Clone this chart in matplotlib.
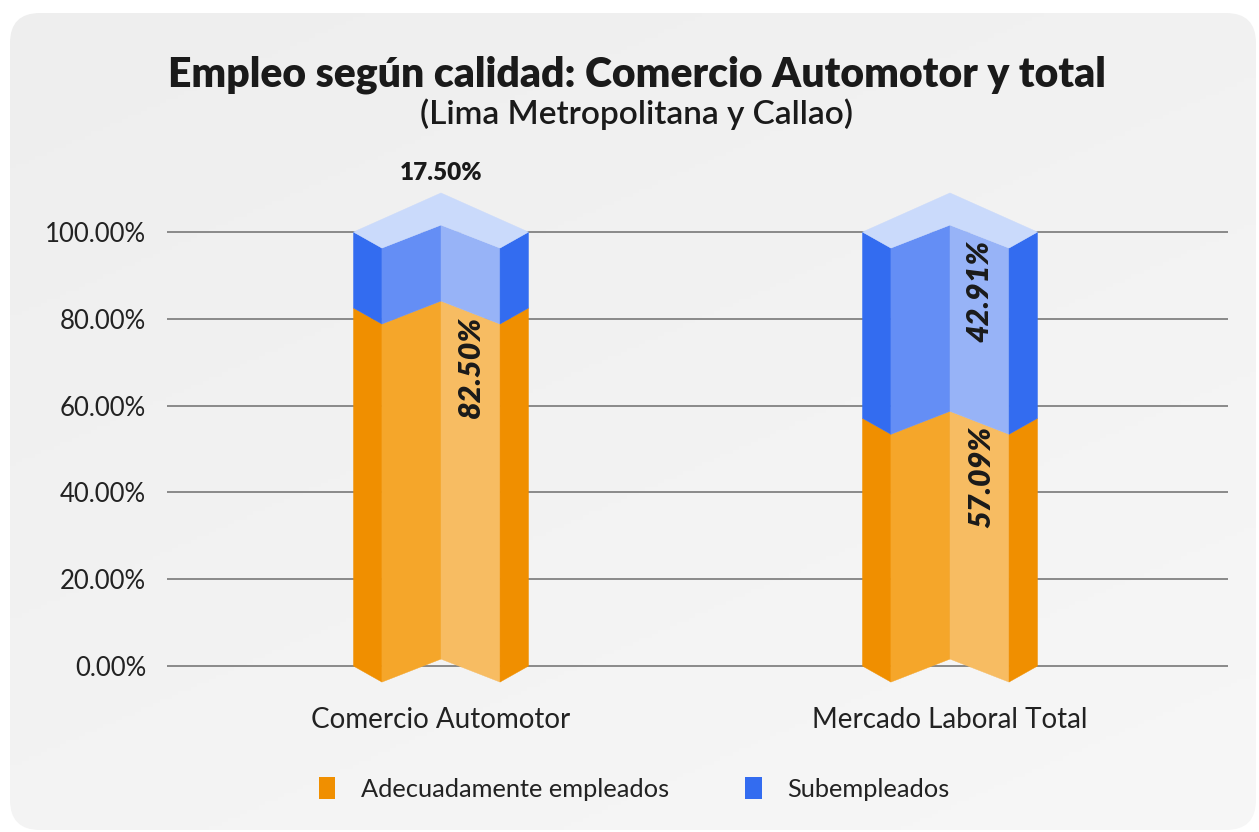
import matplotlib.pyplot as plt
import numpy as np
from matplotlib.patches import Polygon, FancyBboxPatch, Patch

plt.rcParams['font.family'] = ['Lato', 'DejaVu Sans']

# data
categories = ["Comercio Automotor", "Mercado Laboral Total"]
adecuados = [82.50, 57.09]
subempleados = [17.50, 42.91]
series_names = ["Adecuadamente empleados", "Subempleados"]
yticks = [0, 20, 40, 60, 80, 100]

# face colours: outer, left middle, right middle (light), cap
orange = ["#F08F00", "#F5A62A", "#F7BC62", "#F9D79F"]
blue = ["#336CF0", "#648EF5", "#97B3F7", "#CADAFB"]

W, w = 0.172, 0.116       # outer / inner half width (data units)
d_in, d_mid, d_cap = 3.7, 1.6, 9.0   # vertical offsets for pseudo 3D

fig = plt.figure(figsize=(12.59, 8.32), dpi=100)
fig.patch.set_facecolor("white")

# rounded background panel with a soft gradient
bg = fig.add_axes([0, 0, 1, 1], zorder=-10)
bg.set_xlim(0, 1259)
bg.set_ylim(832, 0)
bg.axis("off")
panel = FancyBboxPatch((10, 13), 1246, 817, boxstyle="round,pad=0,rounding_size=30",
                       transform=bg.transData, facecolor="none", edgecolor="none")
bg.add_patch(panel)
gx, gy = np.meshgrid(np.linspace(0, 1, 200), np.linspace(0, 1, 200))
grad = 0.4 * gx + 0.6 * gy
img = bg.imshow(grad, extent=(10, 1256, 830, 13), cmap=plt.matplotlib.colors.LinearSegmentedColormap.from_list(
    "g", ["#EEEEEE", "#F7F7F7"]), aspect="auto", origin="upper")
img.set_clip_path(panel)

ax = fig.add_axes([167 / 1259, 132 / 832, 1061 / 1259, 550 / 832])
ax.set_facecolor("none")
ax.set_xlim(-0.5383, 1.5462)
ax.set_ylim(-7.83, 118.9)
for s in ax.spines.values():
    s.set_visible(False)
ax.set_yticks(yticks)
ax.set_yticklabels([f"{t:.2f}%" for t in yticks], fontsize=18.5, color="#222222")
ax.yaxis.grid(True, color="#8A8A8A", linewidth=1.4, zorder=0)
ax.set_axisbelow(True)
ax.tick_params(axis="y", length=0, pad=15)
ax.set_xticks(range(len(categories)))
ax.set_xticklabels(categories, fontsize=20, color="#222222")
ax.tick_params(axis="x", length=0, pad=5)


def segment(x, lo, hi, cols, cap=False):
    faces = [
        ([(x - W, lo), (x - W, hi), (x - w, hi - d_in), (x - w, lo - d_in)], cols[0]),
        ([(x - w, lo - d_in), (x - w, hi - d_in), (x, hi + d_mid), (x, lo + d_mid)], cols[1]),
        ([(x, lo + d_mid), (x, hi + d_mid), (x + w, hi - d_in), (x + w, lo - d_in)], cols[2]),
        ([(x + w, lo - d_in), (x + w, hi - d_in), (x + W, hi), (x + W, lo)], cols[0]),
    ]
    if cap:
        faces.append(([(x - W, hi), (x, hi + d_cap), (x + W, hi), (x + w, hi - d_in),
                       (x, hi + d_mid), (x - w, hi - d_in)], cols[3]))
    for pts, c in faces:
        ax.add_patch(Polygon(pts, closed=True, facecolor=c, edgecolor=c, linewidth=0.3, zorder=3))


for i, (a, s) in enumerate(zip(adecuados, subempleados)):
    segment(i, 0, a, orange)
    segment(i, a, a + s, blue, cap=True)

# labels
lab_kw = dict(fontweight="heavy", color="#1A1A1A", zorder=5)
ax.text(0.058, adecuados[0] - 13.5, f"{adecuados[0]:.2f}%", rotation=90, ha="center",
        va="center", style="italic", fontsize=22, **lab_kw)
ax.text(0, adecuados[0] + subempleados[0] + d_cap + 2, f"{subempleados[0]:.2f}%",
        ha="center", va="bottom", fontsize=17.5, **lab_kw)
ax.text(1.062, adecuados[1] - 13.5, f"{adecuados[1]:.2f}%", rotation=90, ha="center",
        va="center", style="italic", fontsize=22, **lab_kw)
ax.text(1.058, 100 - 13.5, f"{subempleados[1]:.2f}%", rotation=90, ha="center",
        va="center", style="italic", fontsize=22, **lab_kw)

fig.text(637 / 1259, 1 - 75 / 832, "Empleo según calidad: Comercio Automotor y total",
         ha="center", va="center", fontsize=29.4, fontweight="heavy", color="#1A1A1A")
fig.text(637 / 1259, 1 - 114 / 832, "(Lima Metropolitana y Callao)",
         ha="center", va="center", fontsize=24, fontweight="semibold", color="#1A1A1A")

handles = [Patch(facecolor=orange[0], edgecolor="none"), Patch(facecolor=blue[0], edgecolor="none")]
fig.legend(handles, series_names, loc="center", bbox_to_anchor=(634 / 1259, 1 - 789 / 832),
           ncol=2, frameon=False, fontsize=18.3, handlelength=0.65, handleheight=0.95,
           handletextpad=1.0, columnspacing=3.0, labelcolor="#222222")

fig.savefig("out.png", dpi=100)
